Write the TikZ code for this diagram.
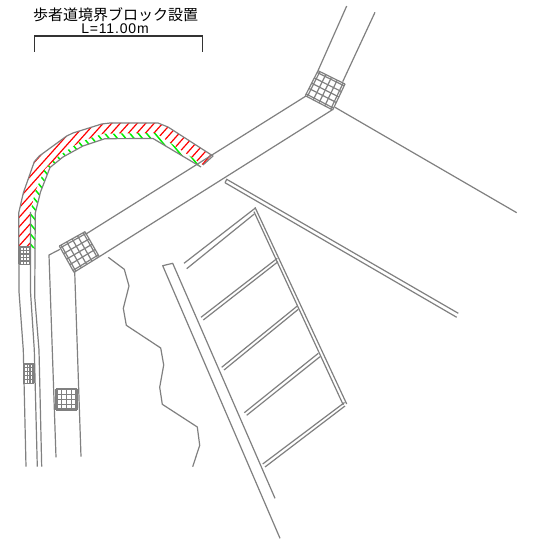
\documentclass[tikz,border=0pt]{standalone}
\usepackage{fontspec}
\usetikzlibrary{calc}
\newfontfamily\cjkfont{Noto Sans CJK JP}
\newfontfamily\latinfont[LetterSpace=6]{Liberation Sans}
\definecolor{linegray}{HTML}{808080}
\definecolor{brightgreen}{HTML}{00F000}
\tikzset{
  ln/.style={draw=linegray,line width=1.2pt,line join=round},
  redhatch/.style={draw=red,line width=1.2pt},
  greenhatch/.style={draw=brightgreen,line width=1.5pt},
  titletext/.style={inner sep=0pt,text=black}
}
\newcommand{\gridblock}[6]{%
  \coordinate (A) at #1; \coordinate (B) at #2; \coordinate (C) at #3; \coordinate (D) at #4;
  \foreach \t in {#5} { \draw[ln] ($(A)!\t!(B)$) -- ($(D)!\t!(C)$); }
  \foreach \t in {#6} { \draw[ln] ($(A)!\t!(D)$) -- ($(B)!\t!(C)$); }
}
\begin{document}
\begin{tikzpicture}[x=1pt,y=-1pt]
\useasboundingbox (0,0) rectangle (541,540);
\fill[white] (0,0) rectangle (541,540);
% title
\node[titletext,font=\cjkfont\fontsize{15}{15}\selectfont] (title) at (115.5,15) {歩者道境界ブロック設置};
\node[titletext,font=\latinfont\fontsize{14}{14}\selectfont] (len) at (115,29) {L=11.00m};
\draw[draw=black!80,line width=1.2pt] (34.5,52) -- (34.5,36) -- (202.5,36) -- (202.5,52);
% strips
\begin{scope}
  \clip (18.7,247) -- (18.7,213) -- (23.3,193) -- (34.3,161.7) -- (39.3,156) -- (66.7,136) -- (73,133) -- (101.7,124) -- (110,123) -- (158,123) -- (168,127) -- (213,156) -- (203,165) -- (158,134.5) -- (155,133) -- (103,133.7) -- (80,142) -- (60,155) -- (45,169) -- (35,192) -- (30.5,212) -- (30.5,247) -- cycle;
  \foreach \i in {-10,...,16} { \draw[redhatch] (0,267.2+9.5*\i) -- (300,267.2+9.5*\i-335.4); }
\end{scope}
\begin{scope}
  \clip (30.5,247) -- (30.5,212) -- (35,192) -- (45,169) -- (60,155) -- (80,142) -- (103,133.7) -- (155,133) -- (158,134.5) -- (203,165) -- (201,167) -- (153,138.5) -- (105,138.7) -- (83,146) -- (63,157) -- (50,167.5) -- (40.5,192) -- (35.3,213) -- (35.3,249) -- cycle;
  \foreach \i in {-28,...,1} { \draw[greenhatch] (0,207.5+10*\i) -- (300,207.5+10*\i+360); }
\end{scope}
% road boundary lines
\draw[ln] (26,466.7) -- (23.3,350) -- (19,291.7) -- (18.7,213) -- (23.3,193) -- (34.3,161.7) -- (39.3,156) -- (66.7,136) -- (73,133) -- (101.7,124) -- (110,123) -- (158,123) -- (168,127) -- (213,156) -- (203,165);
\draw[ln] (37.3,466.7) -- (34.3,350) -- (30.5,291.7) -- (30.5,212);
\draw[ln] (41.7,466.7) -- (39,350) -- (34.7,296.7) -- (35.3,213) -- (40.5,192) -- (50,167.5) -- (63,157) -- (83,146) -- (105,138.7) -- (153,138.5) -- (201,167);
% lower left road
\draw[ln] (60,249.3) -- (49,255) -- (56,457.3);
\draw[ln] (74.7,271.7) -- (81,456.7);
% diagonal road
\draw[ln] (86,234) -- (306,96);
\draw[ln] (99.3,256.7) -- (332,110);
\draw[ln] (318,70.7) -- (346.7,6);
\draw[ln] (342.7,81.7) -- (375,12.3);
\draw[ln] (335,107.3) -- (516.7,212.7);
% double line
\draw[ln] (225,182.7) -- (226.7,179.3) -- (458.3,313.3);
\draw[ln] (225,182.7) -- (456.7,317.3);
% ladder
\draw[ln] (255,207.3) -- (346.7,404);
\draw[ln] (254,211.7) -- (343.3,405);
\draw[ln] (255,208.3) -- (184,263.3);
\draw[ln] (254.3,214) -- (186.7,268.7);
\draw[ln] (277.3,258.3) -- (201,317.3);
\draw[ln] (278,261.7) -- (203.3,320);
\draw[ln] (297.3,306) -- (221.7,367.3);
\draw[ln] (298.3,309.3) -- (224,370);
\draw[ln] (318.3,353.3) -- (244.3,412.7);
\draw[ln] (320,356.7) -- (246.7,415.3);
\draw[ln] (344.5,402.5) -- (262.7,464);
\draw[ln] (345,406) -- (265,467);
% left rail
\draw[ln] (280,538.3) -- (162.7,265.7) -- (172.7,263.3) -- (275,498.3);
% wiggly line
\draw[ln] (108.3,257.3) -- (124.3,269.3) -- (129,286) -- (123.3,308.3) -- (126.3,325.3) -- (160.7,348) -- (163.7,365) -- (159.7,387.3) -- (162.3,404.3) -- (197.3,427) -- (199.7,445.3) -- (192.7,466.7);
% grids
\gridblock{(59.3,246)}{(85,231.7)}{(99.3,256.7)}{(74,272.3)}{0,0.07,0.29,0.5,0.71,0.93,1}{0,0.07,0.29,0.5,0.71,0.93,1}
\gridblock{(305.3,95.7)}{(318,70.7)}{(345,84)}{(332.7,110)}{0,0.07,0.29,0.5,0.71,0.93,1}{0,0.07,0.29,0.5,0.71,0.93,1}
\gridblock{(56,388.7)}{(77,388.7)}{(77,410)}{(56,410)}{0,0.05,0.27,0.5,0.73,0.95,1}{0,0.05,0.27,0.5,0.73,0.95,1}
\gridblock{(19,247)}{(30.3,247)}{(30.3,264.5)}{(19,264.5)}{0,0.1,0.37,0.63,0.9,1}{0,0.2,0.4,0.6,0.8,1}
\gridblock{(23.3,364)}{(34,364)}{(34,383.3)}{(23.3,383.3)}{0,0.1,0.37,0.63,0.9,1}{0,0.2,0.4,0.6,0.8,1}
\end{tikzpicture}
\end{document}
